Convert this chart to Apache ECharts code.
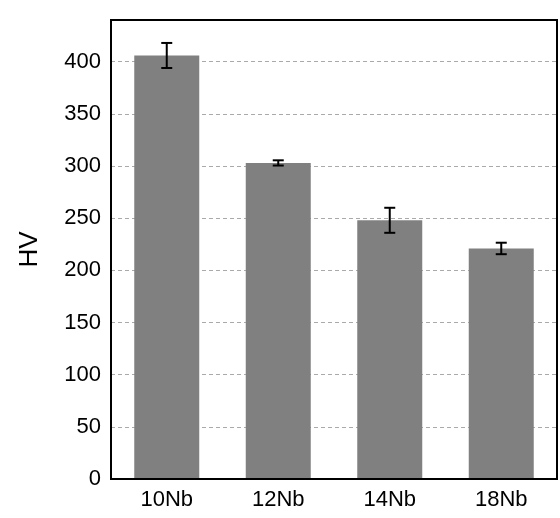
<!DOCTYPE html>
<html>
<head>
<meta charset="utf-8">
<script src="https://cdn.jsdelivr.net/npm/echarts@6/dist/echarts.min.js"></script>
<style>html,body{margin:0;padding:0;background:#fff;}#c{width:560px;height:518px;}</style>
</head>
<body>
<div id="c"></div>
<script>
const categories = ['10Nb', '12Nb', '14Nb', '18Nb'];
const values = [406, 303, 248, 221];
const errors = [12, 2.5, 12, 5.5];
const yMin = 0, yMax = 440, yInterval = 50;

const chart = echarts.init(document.getElementById('c'), null, {renderer: 'canvas'});
const errData = categories.map((c, i) => [i, values[i] - errors[i], values[i] + errors[i]]);
const font = 'Liberation Sans, Arial, sans-serif';

chart.setOption({
  backgroundColor: '#ffffff',
  animation: false,
  grid: {left: 111, right: 3, top: 20, bottom: 39, show: false},
  xAxis: {
    type: 'category', data: categories,
    axisLine: {show: true, lineStyle: {color: '#000', width: 2}},
    axisTick: {show: false},
    axisLabel: {color: '#000', fontSize: 22, fontFamily: font, margin: 10}
  },
  yAxis: {
    type: 'value', min: yMin, max: yMax, interval: yInterval,
    name: 'HV', nameLocation: 'middle', nameGap: 68, nameRotate: 90,
    nameTextStyle: {color: '#000', fontSize: 26, fontFamily: font},
    axisLine: {show: true, lineStyle: {color: '#000', width: 2}},
    axisTick: {show: false},
    axisLabel: {color: '#000', fontSize: 22, fontFamily: font, margin: 10, showMaxLabel: false,
      formatter: v => (v % yInterval === 0 ? String(v) : '')},
    splitLine: {show: true, showMaxLine: false, lineStyle: {color: '#aaaaaa', type: [4, 3], width: 1}}
  },
  graphic: [{
    type: 'rect', z: 100, silent: true,
    shape: {x: 111, y: 20, width: 446, height: 459},
    style: {fill: 'none', stroke: '#000', lineWidth: 2}
  }],
  series: [
    {type: 'bar', data: values, barWidth: 65, itemStyle: {color: '#808080'}, z: 2},
    {type: 'custom', data: errData, z: 5,
      renderItem: function (params, api) {
        const x = api.value(0);
        const lo = api.coord([x, api.value(1)]);
        const hi = api.coord([x, api.value(2)]);
        const hw = 5.5;
        const st = {stroke: '#000', lineWidth: 2};
        return {type: 'group', children: [
          {type: 'line', shape: {x1: lo[0], y1: lo[1], x2: hi[0], y2: hi[1]}, style: st},
          {type: 'line', shape: {x1: lo[0] - hw, y1: lo[1], x2: lo[0] + hw, y2: lo[1]}, style: st},
          {type: 'line', shape: {x1: hi[0] - hw, y1: hi[1], x2: hi[0] + hw, y2: hi[1]}, style: st}
        ]};
      }
    }
  ]
});
</script>
</body>
</html>
